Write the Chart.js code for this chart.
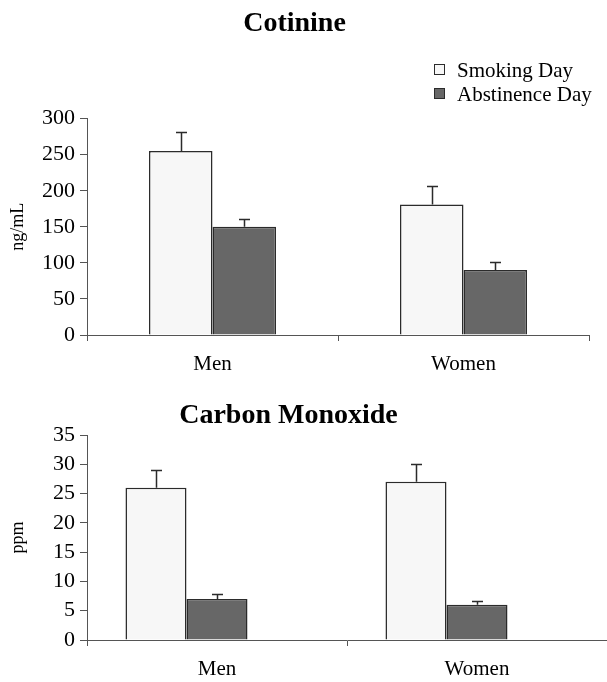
<!DOCTYPE html>
<html><head><meta charset="utf-8">
<script src="https://cdn.jsdelivr.net/npm/chart.js@4.4.0/dist/chart.umd.min.js"></script>
<style>
html,body{margin:0;padding:0;background:#fff;overflow:hidden;}
#wrap{position:relative;width:607px;height:682px;background:#fff;}
.box{position:absolute;left:0;width:607px;}
</style></head><body>
<div id="wrap">
<div class="box" style="top:0;height:390px"><canvas id="c1" width="607" height="390"></canvas></div>
<div class="box" style="top:390px;height:292px"><canvas id="c2" width="607" height="292"></canvas></div>
</div>
<script>
// ---- data ----
const categories = ['Men', 'Women'];
const seriesNames = ['Smoking Day', 'Abstinence Day'];
const cotinineSmoking = [255, 181];
const cotinineSmokingErr = [26, 26];
const cotinineAbstinence = [150, 90];
const cotinineAbstinenceErr = [11, 11];
const coSmoking = [26, 27];
const coSmokingErr = [3, 3];
const coAbstinence = [7, 6];
const coAbstinenceErr = [0.8, 0.7];
const cotinineTicks = [0, 50, 100, 150, 200, 250, 300];
const coTicks = [0, 5, 10, 15, 20, 25, 30, 35];

// ---- styles ----
const FONT = "'Liberation Serif', 'Times New Roman', serif";
Chart.defaults.font.family = FONT;
Chart.defaults.color = '#000';
const SMOKE_FILL = '#f7f7f7';
const ABST_FILL = '#676767';
const EDGE = '#2b2b2b';
const AXIS = '#555';

const errorBars = {
  id: 'errorBars',
  afterDatasetsDraw(chart) {
    const ctx = chart.ctx, y = chart.scales.y;
    chart.data.datasets.forEach((ds, i) => {
      if (!ds.errors) return;
      const meta = chart.getDatasetMeta(i);
      meta.data.forEach((bar, j) => {
        const v = ds.data[j], e = ds.errors[j];
        if (v == null || e == null) return;
        const x = Math.round(bar.x) + 0.5;
        const y0 = y.getPixelForValue(v), y1 = Math.round(y.getPixelForValue(v + e)) + 0.5;
        ctx.save();
        ctx.strokeStyle = EDGE; ctx.lineWidth = 1.5;
        ctx.beginPath();
        ctx.moveTo(x, y0); ctx.lineTo(x, y1);
        ctx.moveTo(x - 5.5, y1); ctx.lineTo(x + 5.5, y1);
        ctx.stroke();
        ctx.restore();
      });
    });
  }
};

const customLegend = {
  id: 'customLegend',
  afterDraw(chart, args, opts) {
    if (!opts || !opts.show) return;
    const ctx = chart.ctx;
    ctx.save();
    ctx.font = '21px ' + FONT;
    ctx.textBaseline = 'middle';
    chart.data.datasets.slice(0, seriesNames.length).forEach((ds, i) => {
      const cy = opts.y + i * opts.gap;
      ctx.fillStyle = ds.backgroundColor;
      ctx.fillRect(opts.x, cy - 6, 11, 11);
      ctx.strokeStyle = EDGE; ctx.lineWidth = 1;
      ctx.strokeRect(opts.x + 0.5, cy - 5.5, 10, 10);
      ctx.fillStyle = '#000';
      ctx.fillText(ds.label, opts.x + 23, cy + 1);
    });
    ctx.restore();
  }
};

function makeChart(id, opt) {
  const datasets = [
    { label: seriesNames[0], data: opt.smoke, errors: opt.smokeErr,
      backgroundColor: SMOKE_FILL, borderColor: EDGE, borderWidth: 1.5 },
    { label: seriesNames[1], data: opt.abst, errors: opt.abstErr,
      backgroundColor: ABST_FILL, borderColor: EDGE, borderWidth: 1.5 }
  ];
  if (opt.spacer) datasets.push({ label: '', data: categories.map(() => null), backgroundColor: 'rgba(0,0,0,0)' });
  return new Chart(document.getElementById(id), {
    type: 'bar',
    data: { labels: categories, datasets },
    options: {
      responsive: false,
      animation: false,
      devicePixelRatio: 1,
      datasets: { bar: { categoryPercentage: opt.catPct, barPercentage: 1 } },
      layout: { padding: { left: opt.leftPad, right: opt.rightPad, top: 0, bottom: 0 } },
      plugins: {
        legend: { display: false },
        tooltip: { enabled: false },
        title: { display: true, text: opt.title, color: '#000',
                 font: { family: FONT, size: 28, weight: 'bold' },
                 padding: { top: opt.titleTop, bottom: opt.titleBottom } },
        customLegend: opt.legend
      },
      scales: {
        x: {
          grid: { offset: true, drawOnChartArea: false, drawTicks: true, tickLength: 6, color: AXIS },
          border: { color: AXIS, width: 1 },
          ticks: { font: { size: 21 }, padding: 11, color: '#000', autoSkip: false },
          afterFit(s) { s.height = opt.xHeight; }
        },
        y: {
          min: opt.ticks[0], max: opt.ticks[opt.ticks.length - 1],
          afterBuildTicks(s) { s.ticks = opt.ticks.map(v => ({ value: v })); },
          grid: { drawOnChartArea: false, drawTicks: true, tickLength: 7, color: AXIS },
          border: { color: AXIS, width: 1 },
          ticks: { font: { size: 22 }, padding: 5, color: '#000', autoSkip: false },
          title: { display: true, text: opt.yTitle, color: '#000', font: { size: 18 },
                   padding: { top: 7 - opt.leftPad, bottom: 0 } },
          afterFit(s) { s.width = 87 - opt.leftPad; }
        }
      }
    },
    plugins: [errorBars, customLegend]
  });
}

makeChart('c1', {
  title: 'Cotinine', yTitle: 'ng/mL',
  smoke: cotinineSmoking, smokeErr: cotinineSmokingErr,
  abst: cotinineAbstinence, abstErr: cotinineAbstinenceErr,
  ticks: cotinineTicks, catPct: 0.506, leftPad: 0, rightPad: 18,
  titleTop: 7, titleBottom: 78, xHeight: 55, spacer: false,
  legend: { show: true, x: 434, y: 70, gap: 24 }
});

makeChart('c2', {
  title: 'Carbon Monoxide', yTitle: 'ppm',
  smoke: coSmoking, smokeErr: coSmokingErr,
  abst: coAbstinence, abstErr: coAbstinenceErr,
  ticks: coTicks, catPct: 0.704, leftPad: -30, rightPad: 0,
  titleTop: 9, titleBottom: 2.4, xHeight: 42, spacer: true,
  legend: { show: false }
});
</script>
</body></html>
